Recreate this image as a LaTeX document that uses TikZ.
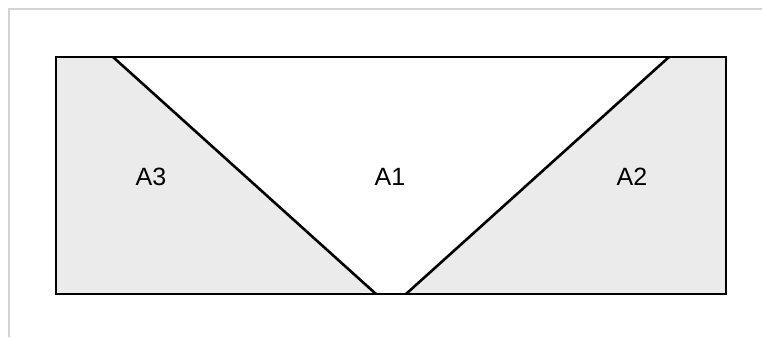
\documentclass[tikz,border=0pt]{standalone}
\usepackage{fontspec}
\setmainfont{Liberation Sans}
\usetikzlibrary{positioning}
\definecolor{areagray}{HTML}{EBEBEB}
\definecolor{framegray}{HTML}{D4D4D4}
\tikzstyle{area} = [fill=areagray]
\tikzstyle{edge} = [draw, line width=2.6pt, line join=miter]
\tikzstyle{label} = [font=\fontsize{25}{28}\selectfont, inner sep=0pt]
\tikzstyle{frame} = [draw=framegray, line width=1.5pt]

\begin{document}
\begin{tikzpicture}[x=1pt, y=-1pt]
        \useasboundingbox (0,0) rectangle (762,337);
        % Outer frame
        \path [frame] (9,337) -- (9,9) -- (762,9);

        % Corners of the section
        \coordinate (tl) at (56,57);
        \coordinate (tr) at (726,57);
        \coordinate (br) at (726,294);
        \coordinate (bl) at (56,294);
        % Ends of the two slopes
        \coordinate (lt) at (113,57);
        \coordinate (lb) at (376,294);
        \coordinate (rt) at (669,57);
        \coordinate (rb) at (406,294);

        % Fill areas
        \path [area] (tl) rectangle (br);
        \path [fill=white] (lt) -- (rt) -- (rb) -- (lb) -- cycle;

        % Draw edges
        \path [edge] (tl) rectangle (br);
        \path [edge] (lt) -- (lb);
        \path [edge] (rt) -- (rb);

        % Place labels
        \node [label] (a1) at (390,177) {A1};
        \node [label] (a3) at (151,177) {A3};
        \node [label] (a2) at (632,177) {A2};
\end{tikzpicture}
\end{document}
